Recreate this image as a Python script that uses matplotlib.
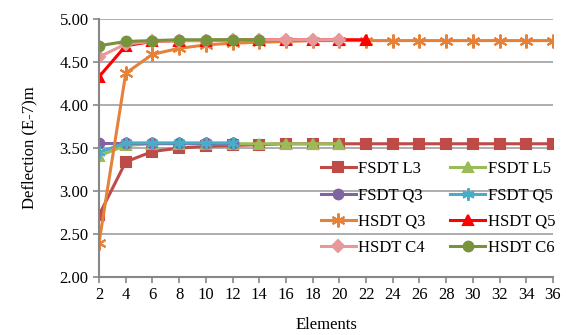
import matplotlib.pyplot as plt
import numpy as np

plt.rcParams['font.family'] = ['Liberation Serif', 'DejaVu Serif']

# element counts per series
el_l3 = [2, 4, 6, 8, 10, 12, 14, 16, 18, 20, 22, 24, 26, 28, 30, 32, 34, 36]
el_l5 = [2, 4, 6, 8, 10, 12, 14, 16, 18, 20]
el_q3 = [2, 4, 6, 8, 10, 12]
el_q5 = [2, 4, 6, 8, 10, 12]
el_hq3 = [2, 4, 6, 8, 10, 12, 14, 16, 18, 20, 22, 24, 26, 28, 30, 32, 34, 36]
el_hq5 = [2, 4, 6, 8, 10, 12, 14, 16, 18, 20, 22]
el_c4 = [2, 4, 6, 8, 10, 12, 14, 16, 18, 20]
el_c6 = [2, 4, 6, 8, 10, 12, 14]

fsdt_l3 = [2.72, 3.34, 3.46, 3.50, 3.52, 3.53, 3.54, 3.55, 3.55, 3.55, 3.55, 3.55,
           3.55, 3.55, 3.55, 3.55, 3.55, 3.55]
fsdt_l5 = [3.41, 3.53, 3.55, 3.55, 3.55, 3.55, 3.55, 3.55, 3.55, 3.55]
fsdt_q3 = [3.56, 3.56, 3.56, 3.56, 3.56, 3.56]
fsdt_q5 = [3.45, 3.56, 3.56, 3.56, 3.56, 3.56]
hsdt_q3 = [2.40, 4.37, 4.59, 4.66, 4.70, 4.72, 4.73, 4.74, 4.75, 4.75, 4.75, 4.75,
           4.75, 4.75, 4.75, 4.75, 4.75, 4.75]
hsdt_q5 = [4.33, 4.69, 4.74, 4.75, 4.75, 4.76, 4.76, 4.76, 4.76, 4.76, 4.76]
hsdt_c4 = [4.56, 4.71, 4.74, 4.75, 4.75, 4.76, 4.76, 4.76, 4.76, 4.76]
hsdt_c6 = [4.69, 4.74, 4.75, 4.76, 4.76, 4.76, 4.76]

star = (6, 2, 0)
series = [
    (el_l3, fsdt_l3, 'FSDT L3', '#BE4B48', 's', 7),
    (el_l5, fsdt_l5, 'FSDT L5', '#9BBB59', '^', 7),
    (el_q3, fsdt_q3, 'FSDT Q3', '#8064A2', 'o', 7),
    (el_q5, fsdt_q5, 'FSDT Q5', '#4BACC6', star, 9),
    (el_hq3, hsdt_q3, 'HSDT Q3', '#E5823A', star, 10),
    (el_hq5, hsdt_q5, 'HSDT Q5', '#FF0000', '^', 7),
    (el_c4, hsdt_c4, 'HSDT C4', '#E6999A', 'D', 6),
    (el_c6, hsdt_c6, 'HSDT C6', '#77933C', 'o', 7),
]

fig, ax = plt.subplots(figsize=[5.66, 3.35], dpi=100)
fig.subplots_adjust(left=0.175, right=0.977, top=0.943, bottom=0.173)

lines = []
for x, y, lab, col, mk, ms in series:
    ln, = ax.plot(x, y, marker=mk, ms=ms, c=col, lw=2.2, mew=1.5, label=lab)
    lines.append(ln)

ax.set_xlim([2, 36])
ax.set_ylim([2, 5])
ax.set_xticks(np.arange(2, 37, 2))
ax.set_yticks(np.arange(2, 5.01, 0.5))
ax.set_yticklabels(['%.2f' % v for v in np.arange(2, 5.01, 0.5)])
ax.tick_params(labelsize=12, color='#878787', length=4, width=1.2)
ax.grid(axis='y', color='#A0A0A0', lw=1.2)
ax.set_axisbelow(True)
for s in ['top', 'right']:
    ax.spines[s].set_visible(False)
for s in ['left', 'bottom']:
    ax.spines[s].set_color('#878787')
    ax.spines[s].set_linewidth(1.5)

ax.set_ylabel('Deflection (E-7)m', fontsize=12, labelpad=16)
ax.set_xlabel('Elements', fontsize=12, labelpad=10)

# matplotlib fills legend columns first, so reorder to get row-wise order
order = [0, 2, 4, 6, 1, 3, 5, 7]
leg = ax.legend([lines[i] for i in order], [lines[i].get_label() for i in order],
                ncol=2, loc='center left', bbox_to_anchor=(0.455, 0.265), frameon=False,
                fontsize=12, handlelength=2.1, columnspacing=1.5, labelspacing=0.62,
                handletextpad=0.15)

plt.savefig('out.png')
